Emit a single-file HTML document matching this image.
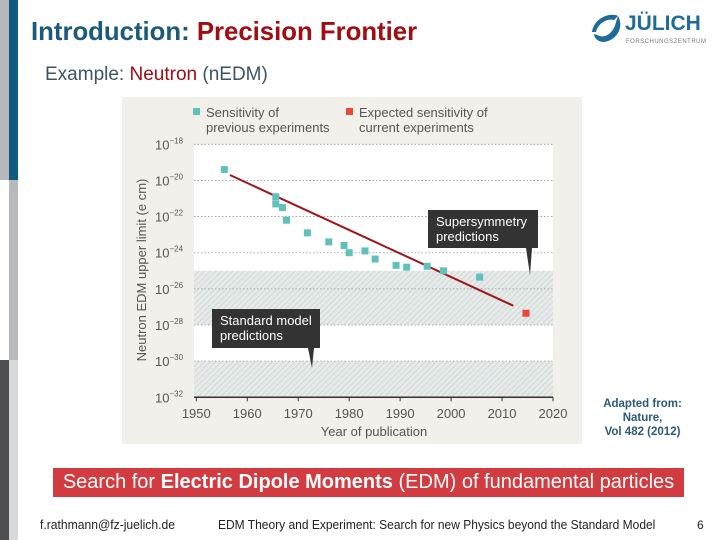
<!DOCTYPE html>
<html><head><meta charset="utf-8"><style>
body{margin:0;width:720px;height:540px;position:relative;background:#fff;font-family:"Liberation Sans",sans-serif;overflow:hidden}
.abs{position:absolute}
</style></head><body>
<div class="abs" style="left:0;top:0;width:9px;height:180px;background:#b8b9bd"></div>
<div class="abs" style="left:0;top:360px;width:9px;height:180px;background:#4d4e50"></div>
<div class="abs" style="left:9px;top:0;width:9px;height:180px;background:#0f5b82"></div>
<div class="abs" style="left:9px;top:180px;width:9px;height:180px;background:#b8b9bd"></div>
<div class="abs" style="left:9px;top:360px;width:9px;height:180px;background:#d9d9d9"></div>

<div class="abs" style="left:31px;top:16px;font-size:26px;font-weight:bold;color:#1b5a7a;transform:scaleX(0.99);transform-origin:left;white-space:nowrap">Introduction: <span style="color:#a00d12">Precision Frontier</span></div>
<div class="abs" style="left:45px;top:64px;font-size:19px;color:#3d5466;transform:scaleX(1.0);transform-origin:left;white-space:nowrap">Example: <span style="color:#a00d12">Neutron</span> (nEDM)</div>

<div class="abs" style="left:588px;top:10px;width:120px;height:40px">
<svg width="40" height="40" style="position:absolute;left:0;top:0"><path d="M4 22 C6 8 22 2 30 6 L26 10 C18 8 10 14 8 22 Z" fill="#1f6c9a"/><path d="M30 6 C36 16 30 30 16 32 C10 32 6 28 6 24 L12 26 C18 28 26 22 28 12 Z" fill="#1f6c9a"/></svg>
<div class="abs" style="left:37px;top:2px;font-size:21px;font-weight:bold;color:#1f6c9a">JÜLICH</div>
<div class="abs" style="left:38px;top:29px;font-size:6px;color:#777;letter-spacing:0.5px">FORSCHUNGSZENTRUM</div>
</div>

<svg class="abs" style="left:0;top:0" width="720" height="540">
<defs><pattern id="hatch" width="4" height="4" patternUnits="userSpaceOnUse" patternTransform="rotate(45)"><rect width="4" height="4" fill="#e6ebea"/><line x1="0" y1="0" x2="0" y2="4" stroke="#c9d2d0" stroke-width="1.5"/></pattern></defs>
<rect x="122" y="97" width="460" height="347" fill="#f1f0ea"/>
<g id="plot"></g>
</svg>

<div class="abs" style="left:595px;top:397px;width:95px;text-align:center;font-size:11.5px;font-weight:bold;color:#2d5a78;line-height:14px">Adapted from:<br>Nature,<br>Vol 482 (2012)</div>

<div class="abs" style="left:53px;top:468px;width:631px;height:29px;background:#d23c40;color:#fff;font-size:20px;line-height:29px;text-align:center;white-space:nowrap"><span style="display:inline-block;transform:scaleX(1.0)">Search for <b>Electric Dipole Moments</b> (EDM) of fundamental particles</span></div>

<div class="abs" style="left:40px;top:518px;font-size:12.5px;color:#222;transform:scaleX(0.97);transform-origin:left;white-space:nowrap">f.rathmann@fz-juelich.de</div>
<div class="abs" style="left:218px;top:518px;font-size:12.5px;color:#222;transform:scaleX(0.96);transform-origin:left;white-space:nowrap">EDM Theory and Experiment: Search for new Physics beyond the Standard Model</div>
<div class="abs" style="left:697px;top:518px;font-size:12px;color:#222">6</div>

<script>
const years=[1955.5,1965.6,1965.6,1966.9,1967.7,1971.8,1976.0,1979.0,1980.0,1983.1,1985.1,1989.2,1991.3,1995.3,1998.5,2005.6];
const logLimits=[-19.4,-20.9,-21.3,-21.5,-22.2,-22.9,-23.4,-23.6,-24.0,-23.9,-24.35,-24.7,-24.8,-24.75,-25.0,-25.35];
const expectedYear=[2014.7];
const expectedLog=[-27.35];
const trendYears=[1956.6,2012.2];
const trendLogs=[-19.7,-26.93];
const xTicks=[1950,1960,1970,1980,1990,2000,2010,2020];
const yTicks=[-18,-20,-22,-24,-26,-28,-30,-32];
const smBands=[[-25,-28],[-30,-32]];

const NS='http://www.w3.org/2000/svg';
const g=document.getElementById('plot');
const X=y=>196.3+(y-1950)*(356.7/70);
const Y=l=>144.3+(-18-l)*(253/14);
function mk(t,a,p){const e=document.createElementNS(NS,t);for(const k in a)e.setAttribute(k,a[k]);(p||g).appendChild(e);return e;}
let r=mk('rect',{x:194,y:Y(-18),width:359,height:Y(-32)-Y(-18),fill:'#fff'});


smBands.forEach(b=>{const e=mk('rect',{x:194,y:Y(b[0]),width:359,height:Y(b[1])-Y(b[0]),fill:'url(#hatch)'});

});
yTicks.forEach(t=>{
 if(t>-32){const l=mk('line',{x1:194,x2:553,y1:Y(t),y2:Y(t),stroke:'#999','stroke-dasharray':'1.5,2','stroke-width':0.8});
 
 }
 const tx=mk('text',{x:155,y:Y(t)+5,'font-size':13,fill:'#555','font-family':'Liberation Sans'});
 
 
 tx.textContent='10';
 const s=mk('tspan',{dy:-6,'font-size':8},tx);s.textContent='−'+(-t);
});
const ax=mk('line',{x1:194,x2:553,y1:Y(-32),y2:Y(-32),stroke:'#333','stroke-width':1.5});


xTicks.forEach(t=>{
 mk('line',{x1:X(t),x2:X(t),y1:Y(-32),y2:Y(-32)+4,stroke:'#333'});
 const tx=mk('text',{x:X(t),y:418,'font-size':13,fill:'#555','text-anchor':'middle','font-family':'Liberation Sans'});
 
 
 tx.textContent=t;
});
let xt=mk('text',{x:374,y:436,'font-size':13,fill:'#555','text-anchor':'middle'});


xt.textContent='Year of publication';
let yt=mk('text',{x:0,y:0,'font-size':13,fill:'#555','text-anchor':'middle',transform:'translate(146,270) rotate(-90)'});


yt.textContent='Neutron EDM upper limit (e cm)';
function callout(x,y,w,h,px,py,lines,name){
 const c=mk('g',{});
 
 
 mk('rect',{x:x,y:y,width:w,height:h,fill:'#333'},c);
 mk('path',{d:`M${px-4} ${y+h} L${px+2} ${y+h} L${px} ${py} Z`,fill:'#333'},c);
 lines.forEach((s,i)=>{const t=mk('text',{x:x+8,y:y+16+i*15,'font-size':13,fill:'#fff'},c);t.textContent=s;});
}
callout(428,210,110,38,530,275,['Supersymmetry','predictions'],'supersymmetry-callout');
callout(212,309,108,39,312,368,['Standard model','predictions'],'standard-model-callout');
const tl=mk('line',{x1:X(trendYears[0]),y1:Y(trendLogs[0]),x2:X(trendYears[1]),y2:Y(trendLogs[1]),stroke:'#a0151a','stroke-width':2});


years.forEach((yr,i)=>{const p=mk('rect',{x:X(yr)-3.5,y:Y(logLimits[i])-3.5,width:7,height:7,fill:'#5fc1ba'});

});
expectedYear.forEach((yr,i)=>{const p=mk('rect',{x:X(yr)-3.5,y:Y(expectedLog[i])-3.5,width:7,height:7,fill:'#e8483a'});

});
[[196,'#5fc1ba',['Sensitivity of','previous experiments'],'legend-previous'],[349,'#e8483a',['Expected sensitivity of','current experiments'],'legend-expected']].forEach(L=>{
 const c=mk('g',{});
 
 
 mk('rect',{x:L[0]-3,y:108,width:7,height:7,fill:L[1]},c);
 L[2].forEach((s,i)=>{const t=mk('text',{x:L[0]+10,y:117+i*15,'font-size':13,fill:'#555'},c);t.textContent=s;});
});
</script>
</body></html>
